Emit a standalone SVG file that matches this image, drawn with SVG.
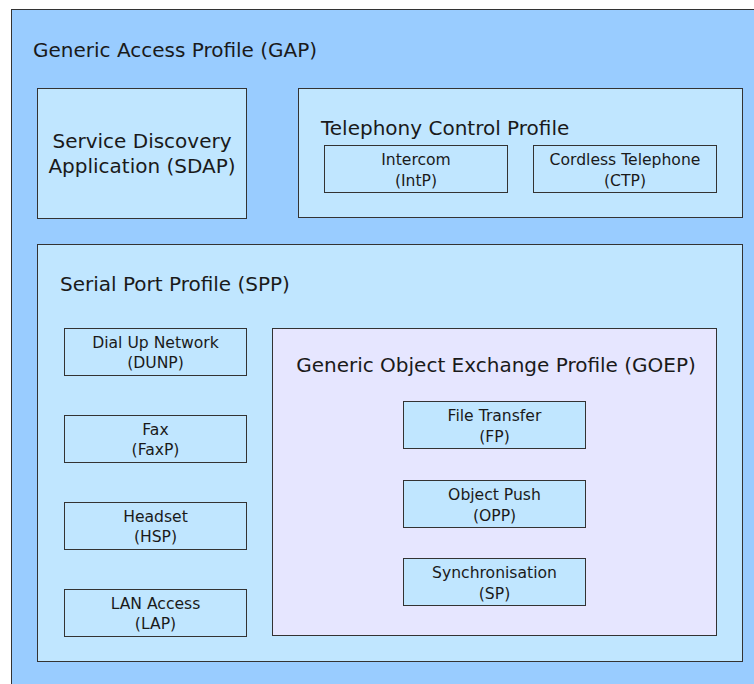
<svg xmlns="http://www.w3.org/2000/svg" width="754" height="684" viewBox="0 0 754 684">
<style>
.box{stroke:#333333;stroke-width:1}
.outer{fill:#99ccff}
.inner{fill:#c0e6ff}
.goep{fill:#e6e6ff}
.big{font-family:"DejaVu Sans",Verdana,sans-serif;font-size:20px;fill:#1a1a1a}
.small{font-family:"DejaVu Sans",Verdana,sans-serif;font-size:15.6px;fill:#1a1a1a;text-anchor:middle}
.mid{text-anchor:middle}
</style>
<rect width="754" height="684" fill="#ffffff"/>
<g id="gap">
<rect class="box outer" x="11.5" y="9.5" width="760" height="690"/>
<text class="big" x="33" y="57">Generic Access Profile (GAP)</text>
</g>
<g id="sdap">
<rect class="box inner" x="37.5" y="88.5" width="209" height="130"/>
<text class="big mid" x="142" y="148">Service Discovery</text>
<text class="big mid" x="142" y="173">Application (SDAP)</text>
</g>
<g id="tcp">
<rect class="box inner" x="298.5" y="88.5" width="444" height="129"/>
<text class="big" x="321" y="135">Telephony Control Profile</text>
</g>
<g id="intp">
<rect class="box inner" x="324.5" y="145.5" width="183" height="47"/>
<text class="small" x="416" y="165">Intercom</text>
<text class="small" x="416" y="186">(IntP)</text>
</g>
<g id="ctp">
<rect class="box inner" x="533.5" y="145.5" width="183" height="47"/>
<text class="small" x="625" y="165">Cordless Telephone</text>
<text class="small" x="625" y="186">(CTP)</text>
</g>
<g id="spp">
<rect class="box inner" x="37.5" y="244.5" width="705" height="417"/>
<text class="big" x="60" y="291">Serial Port Profile (SPP)</text>
</g>
<g id="dunp">
<rect class="box inner" x="64.5" y="328.5" width="182" height="47"/>
<text class="small" x="155.5" y="347.5">Dial Up Network</text>
<text class="small" x="155.5" y="368">(DUNP)</text>
</g>
<g id="faxp">
<rect class="box inner" x="64.5" y="415.5" width="182" height="47"/>
<text class="small" x="155.5" y="434.5">Fax</text>
<text class="small" x="155.5" y="455">(FaxP)</text>
</g>
<g id="hsp">
<rect class="box inner" x="64.5" y="502.5" width="182" height="47"/>
<text class="small" x="155.5" y="521.5">Headset</text>
<text class="small" x="155.5" y="542">(HSP)</text>
</g>
<g id="lap">
<rect class="box inner" x="64.5" y="589.5" width="182" height="47"/>
<text class="small" x="155.5" y="608.5">LAN Access</text>
<text class="small" x="155.5" y="629">(LAP)</text>
</g>
<g id="goep">
<rect class="box goep" x="272.5" y="328.5" width="444" height="307"/>
<text class="big mid" x="496" y="372">Generic Object Exchange Profile (GOEP)</text>
</g>
<g id="fp">
<rect class="box inner" x="403.5" y="401.5" width="182" height="47"/>
<text class="small" x="494.5" y="421">File Transfer</text>
<text class="small" x="494.5" y="442">(FP)</text>
</g>
<g id="opp">
<rect class="box inner" x="403.5" y="480.5" width="182" height="47"/>
<text class="small" x="494.5" y="500">Object Push</text>
<text class="small" x="494.5" y="521">(OPP)</text>
</g>
<g id="sp">
<rect class="box inner" x="403.5" y="558.5" width="182" height="47"/>
<text class="small" x="494.5" y="578">Synchronisation</text>
<text class="small" x="494.5" y="599">(SP)</text>
</g>
<g id="connectors"></g>
</svg>
